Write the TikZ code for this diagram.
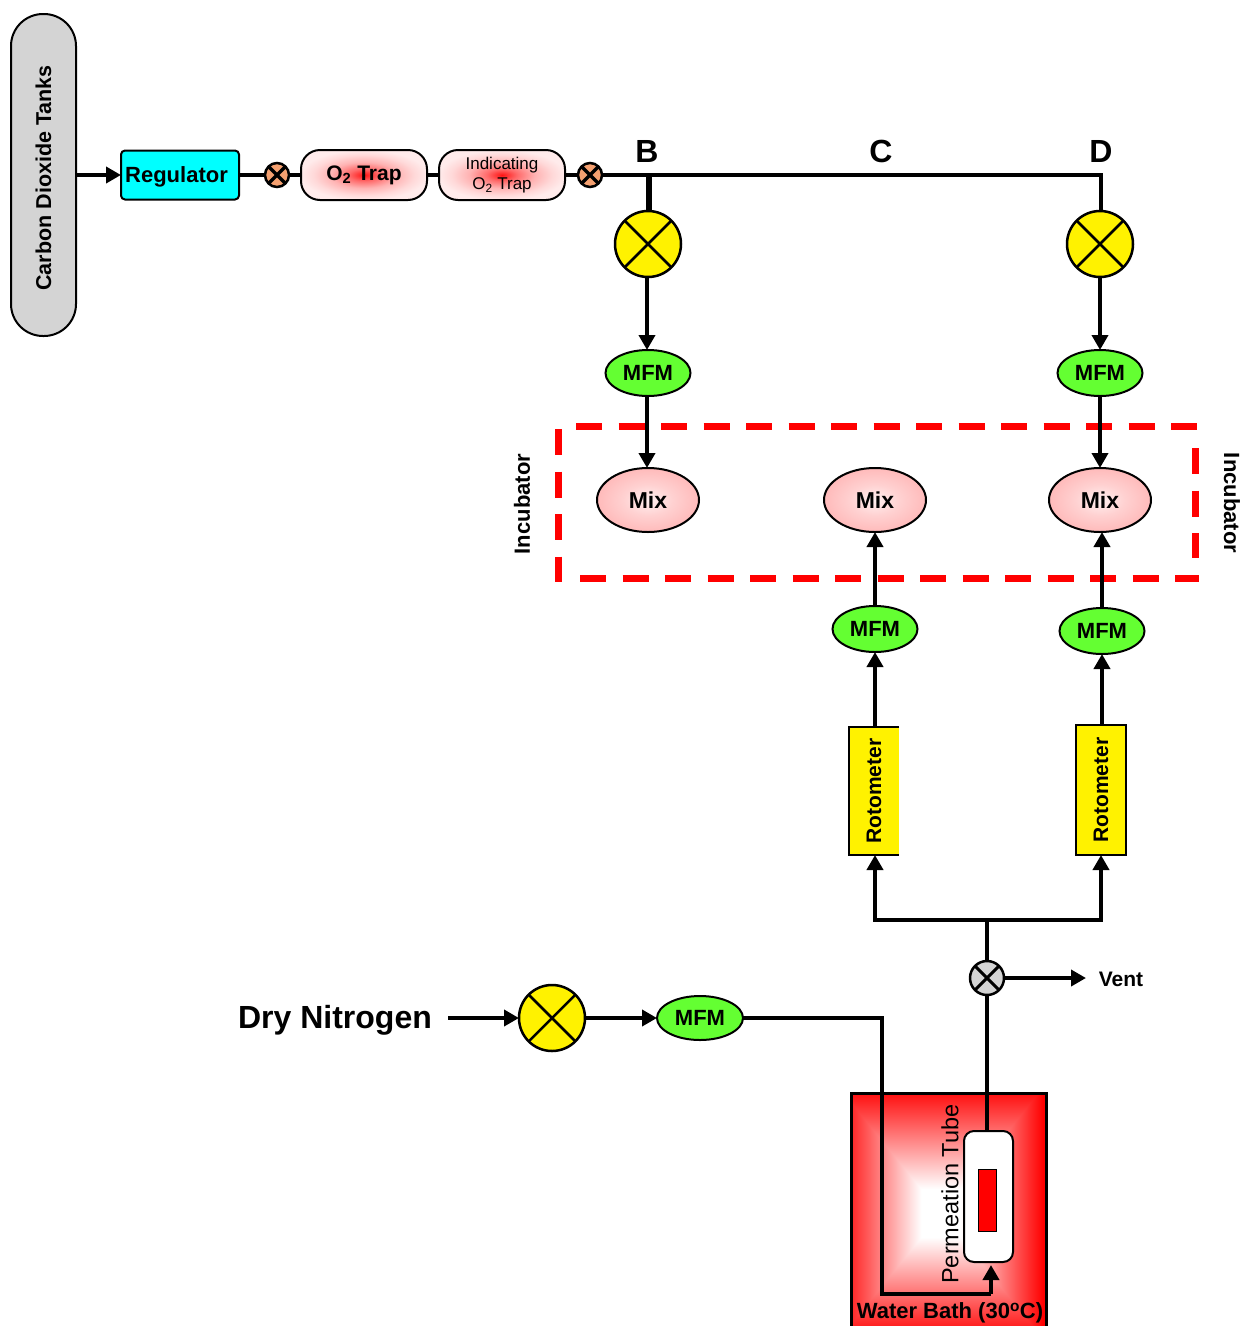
\documentclass[tikz,border=0pt]{standalone}
\usepackage{fontspec}
\usepackage{graphicx}
\setmainfont{Liberation Sans}
\usetikzlibrary{shapes.geometric,arrows.meta}
\definecolor{cyanbox}{RGB}{0,255,255}
\definecolor{valveor}{RGB}{244,160,112}
\definecolor{mfmgreen}{RGB}{100,255,50}
\definecolor{tankgray}{RGB}{212,212,212}
\pgfdeclareradialshading{trapshade}{\pgfpoint{0bp}{0bp}}{color(0bp)=(red!92!white);color(6bp)=(red!58!white);color(13bp)=(red!30!white);color(20bp)=(red!15!white);color(25bp)=(red!8!white);color(50bp)=(red!8!white)}
\pgfdeclareradialshading{mixshade}{\pgfpoint{0bp}{0bp}}{color(0bp)=(red!6!white);color(12bp)=(red!18!white);color(25bp)=(red!27!white);color(50bp)=(red!27!white)}
\pgfdeclarefunctionalshading{bathshade}{\pgfpoint{-50bp}{-50bp}}{\pgfpoint{50bp}{50bp}}{}{
 exch 2 add abs exch abs 2 copy lt {exch} if pop 25 div 0.2 sub 0.85 div dup 0 lt {pop 0} if dup 1 gt {pop 1} if 1 exch sub dup 1 3 1 roll}
\tikzset{
 x=1pt,y=-1pt,
 every node/.style={inner sep=0pt,outer sep=0pt,align=center,text=black,font=\bfseries\fontsize{22}{23}\selectfont},
 pipe/.style={line width=4.5pt,line join=miter,draw=black},
 flow/.style={pipe,-{Triangle[length=15pt,width=16pt]}},
 bigvalve/.style={circle,draw=black,line width=2.5pt,fill=yellow,minimum size=66pt,crossx=2.5pt},
 smallvalve/.style={circle,draw=black,line width=2.5pt,fill=valveor,minimum size=24pt,crossx=3.5pt},
 grayvalve/.style={circle,draw=black,line width=2.5pt,fill=tankgray,minimum size=34pt,crossx=3pt},
 crossx/.style={path picture={\draw[black,line width=#1] (path picture bounding box.north west)--(path picture bounding box.south east) (path picture bounding box.north east)--(path picture bounding box.south west);}},
 mfm/.style={ellipse,draw=black,line width=2pt,fill=mfmgreen,minimum width=85pt,minimum height=46pt},
 mixnode/.style={ellipse,draw=black,line width=2pt,shade,shading=mixshade,minimum width=102pt,minimum height=64pt,font=\bfseries\fontsize{23}{24}\selectfont},
 trap/.style={rectangle,rounded corners=19pt,draw=black,line width=2pt,shade,shading=trapshade,minimum width=126pt,minimum height=50pt},
 rota/.style={rectangle,draw=black,line width=2pt,fill=yellow,minimum width=50pt,minimum height=130pt,font=\bfseries\fontsize{21}{22}\selectfont},
 letter/.style={font=\bfseries\fontsize{32}{34}\selectfont},
 incub/.style={red,line width=7pt,dash pattern=on 26pt off 16.5pt},
}
\begin{document}
\begin{tikzpicture}
\useasboundingbox (0,0) rectangle (1246,1326);
\clip (0,0) rectangle (1246,1326);
% top line
\node[rectangle,rounded corners=32pt,draw=black,line width=2pt,fill=tankgray,minimum width=65pt,minimum height=322pt] (tank) at (43.5,175) {\rotatebox{90}{\fontsize{21.5}{23}\selectfont\hspace*{-6pt}Carbon Dioxide Tanks}};
\node[rectangle,rounded corners=4pt,draw=black,line width=2pt,fill=cyanbox,minimum width=118pt,minimum height=49pt,text height=20pt] (reg) at (180,175) {\hspace*{-7pt}Regulator};
\node[smallvalve] (v1) at (277,175) {};
\node[trap] (trapa) at (364,175) {\fontsize{21}{22}\selectfont O\textsubscript{2} Trap};
\node[trap,text height=27pt,text depth=16pt] (trapb) at (502,175) {\parbox{126pt}{\centering\fontsize{17}{20}\selectfont\mdseries Indicating\\O\textsubscript{2} Trap}};
\node[smallvalve] (v2) at (590,175) {};
\coordinate (jb) at (649,175);
\coordinate (jd) at (1101,175);
\node[letter] (lb) at (647,151) {B};
\node[letter] (lc) at (881,151) {C};
\node[letter] (ld) at (1101,151) {D};
% B and D legs
\node[bigvalve] (vb) at (648,244) {};
\node[bigvalve] (vd) at (1100,244) {};
\node[mfm] (mb) at (648,373) {MFM};
\node[mfm] (md) at (1100,373) {MFM};
\node[mixnode] (xb) at (648,500) {Mix};
\node[mixnode] (xc) at (875,500) {Mix};
\node[mixnode] (xd) at (1100,500) {Mix};
\node[mfm] (mc2) at (875,629) {MFM};
\node[mfm] (md2) at (1102,631) {MFM};
\node[rota,draw=none,minimum height=128pt] (rc) at (874,791) {\rotatebox{90}{Rotometer}};
\draw[black,line width=2pt] (rc.north east) -- (rc.north west) -- (rc.south west) -- (rc.south east);
\node[rota] (rd) at (1101,790) {\rotatebox{90}{Rotometer}};
% incubator
\coordinate (ia1) at (576,426.5);
\coordinate (ia2) at (1199,426.5);
\coordinate (ib1) at (580,578);
\coordinate (ib2) at (1199,578);
\coordinate (ic1) at (558,429);
\coordinate (ic2) at (558,582);
\coordinate (id1) at (1195,448);
\coordinate (id2) at (1195,558);
\draw[incub] (ia1) -- (ia2);
\draw[incub] (ib1) -- (ib2);
\draw[incub] (ic1) -- (ic2);
\draw[incub] (id1) -- (id2);
\node (ia) at (522,504) {\rotatebox{90}{Incubator}};
\node (ib) at (1232,503) {\rotatebox{-90}{Incubator}};
% nitrogen and bath
\node[rectangle,draw=black,line width=3pt,shade,shading=bathshade,minimum width=195pt,minimum height=240pt] (bath) at (948.5,1213) {};
\node[rectangle,rounded corners=10pt,draw=black,line width=2pt,fill=white,minimum width=49pt,minimum height=131pt] (tube) at (988.5,1196.5) {};
\node[rectangle,fill=red,draw=black,line width=1pt,minimum width=18pt,minimum height=62pt] (core) at (987,1200) {};
\node[font=\fontsize{23.5}{24}\selectfont] (ptube) at (950,1194) {\rotatebox{90}{Permeation Tube}};
\node[font=\bfseries\fontsize{22}{23}\selectfont] (wb) at (950,1313) {Water Bath (30\textsuperscript{o}C)};
\node[font=\bfseries\fontsize{32}{33}\selectfont] (dry) at (335,1020) {Dry Nitrogen};
\coordinate (dryout) at (448,1018);
\node[bigvalve] (vn) at (552,1018) {};
\node[mfm,minimum width=86pt,minimum height=44pt] (mn) at (700,1018) {MFM};
\node[grayvalve] (vg) at (987,978) {};
\node[font=\bfseries\fontsize{21}{22}\selectfont] (vent) at (1121,979) {Vent};
\coordinate (ventend) at (1086,978);
\coordinate (ja) at (987,920);
\coordinate (jl) at (875,920);
\coordinate (jr) at (1101,920);
\coordinate (ca) at (882,1018);
\coordinate (cb) at (882,1294);
\coordinate (cc) at (991,1294);
% connectors
\draw[flow] (tank.east) -- (reg.west);
\draw[pipe] (reg.east) -- (v1.west);
\draw[pipe] (v1.east) -- (trapa.west);
\draw[pipe] (trapa.east) -- (trapb.west);
\draw[pipe] (trapb.east) -- (v2.west);
\draw[pipe] (v2.east) -- (jd) -- (jd |- vd.north);
\draw[pipe,line width=5.5pt] (jb) -- (jb |- vb.north);
\draw[flow] ([xshift=-1pt]vb.south) -- ([xshift=-1pt]mb.north);
\draw[flow] (vd.south) -- (md.north);
\draw[flow] ([xshift=-1pt]mb.south) -- ([xshift=-1pt]xb.north);
\draw[flow] (md.south) -- (xd.north);
\draw[flow] (mc2.north) -- (xc.south);
\draw[flow] (md2.north) -- (md2 |- xd.south);
\draw[flow] (rc.north -| mc2) -- (mc2.south);
\draw[flow] (rd.north -| md2) -- (md2.south);
\draw[flow] (ja) -| (rc.south -| jl);
\draw[flow] (ja) -| (rd.south -| jr);
\draw[pipe] (vg.north) -- (ja);
\draw[flow] (vg.east) -- (ventend);
\draw[pipe] (vg.south) -- (vg.south |- tube.north);
\draw[flow] (dryout) -- (vn.west);
\draw[flow] (vn.east) -- (mn.west);
\draw[pipe] (mn.east) -- (ca) -- (cb) -- (cc);
\draw[flow] (cc) -- ++(0,-29);
\end{tikzpicture}
\end{document}
